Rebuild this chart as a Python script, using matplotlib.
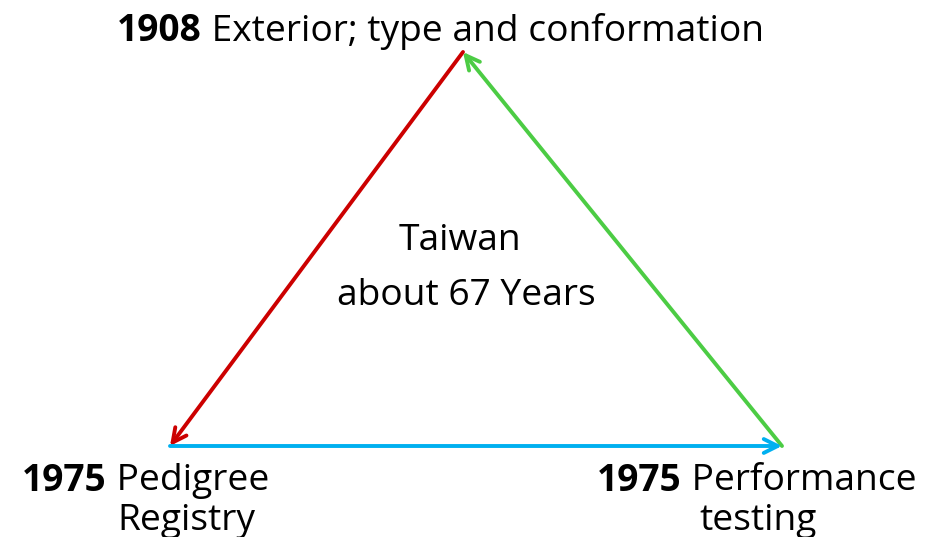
import matplotlib
matplotlib.use("Agg")
import matplotlib.pyplot as plt
from matplotlib.transforms import offset_copy

plt.rcParams['font.family'] = ['Open Sans', 'DejaVu Sans']

# Diagram data
vertices = {"top": (463, 52), "left": (170, 446), "right": (782, 446)}
arrows = [("top", "left", "#cc0000"), ("right", "top", "#4ccc44"), ("left", "right", "#00b0f0")]
center_lines = ["Taiwan", "about 67 Years"]
labels = [
    ("1908", " Exterior; type and conformation"),
    ("1975", " Pedigree"),
    ("1975", " Performance"),
]

fig = plt.figure(figsize=(9.37, 5.37), dpi=100)
ax = fig.add_axes([0, 0, 1, 1])
ax.set_xlim(0, 937)
ax.set_ylim(537, 0)
ax.axis('off')

for a, b, c in arrows:
    ax.annotate("", xy=vertices[b], xytext=vertices[a],
                arrowprops=dict(arrowstyle="->", color=c, lw=2.8,
                                mutation_scale=25, shrinkA=0, shrinkB=0))

fs = 26.7
ax.text(460, 241, center_lines[0], ha='center', va='center', fontsize=fs)
ax.text(466, 296, center_lines[1], ha='center', va='center', fontsize=fs)

renderer = fig.canvas.get_renderer()

def two_part(x, y, bold, rest):
    t = ax.text(x, y, bold, fontweight='bold', fontsize=fs, ha='left', va='center')
    bb = t.get_window_extent(renderer)
    w = bb.width
    tr = offset_copy(ax.transData, fig=fig, x=w * 72 / fig.dpi, y=0, units='points')
    ax.text(x, y, rest, fontsize=fs, ha='left', va='center', transform=tr)

two_part(117, 31, *labels[0])
two_part(22, 481, *labels[1])
ax.text(117, 521, "Registry", fontsize=fs, ha='left', va='center')
two_part(597, 481, *labels[2])
ax.text(699, 521, "testing", fontsize=fs, ha='left', va='center')

fig.savefig("out.png", dpi=100)
